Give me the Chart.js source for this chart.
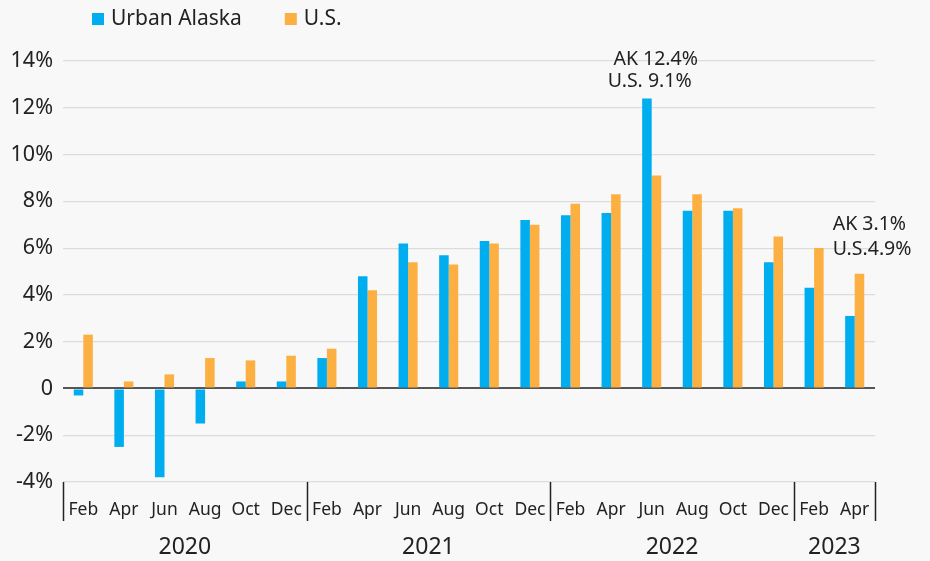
<!DOCTYPE html>
<html>
<head>
<meta charset="utf-8">
<script src="https://cdn.jsdelivr.net/npm/chart.js@4"></script>
<style>
  html, body { margin: 0; padding: 0; background: #f8f8f9; }
  #wrap { width: 930px; height: 561px; position: relative; }
</style>
</head>
<body>
<div id="wrap"><canvas id="cpiChart"></canvas></div>
<script>
// months shown on the axis, grouped by year
const months = ["Feb","Apr","Jun","Aug","Oct","Dec","Feb","Apr","Jun","Aug","Oct","Dec","Feb","Apr","Jun","Aug","Oct","Dec","Feb","Apr"];
const years = ["2020", "2021", "2022", "2023"];
const yearSpans = [6, 6, 6, 2];

// inflation, % change from a year earlier
const urbanAlaska = [-0.3, -2.5, -3.8, -1.5, 0.3, 0.3, 1.3, 4.8, 6.2, 5.7, 6.3, 7.2, 7.4, 7.5, 12.4, 7.6, 7.6, 5.4, 4.3, 3.1];
const us = [2.3, 0.3, 0.6, 1.3, 1.2, 1.4, 1.7, 4.2, 5.4, 5.3, 6.2, 7.0, 7.9, 8.3, 9.1, 8.3, 7.7, 6.5, 6.0, 4.9];

const yTicks = [-4, -2, 0, 2, 4, 6, 8, 10, 12, 14];

// callouts: category index + text lines
const noteIndex = [14, 19];
const noteLines = [["AK 12.4%", "U.S. 9.1%"], ["AK 3.1%", "U.S.4.9%"]];

const FONT = "'Noto Sans', 'Open Sans', sans-serif";
const BLUE = "#00aeef";
const ORANGE = "#fdb042";

// legend drawn top-left, like the original
const topLegend = {
    id: "topLegend",
    afterDraw(chart) {
        const ctx = chart.ctx;
        ctx.save();
        ctx.font = "21px " + FONT;
        ctx.textBaseline = "middle";
        let x = 92;
        const y = 19;
        chart.data.datasets.forEach(ds => {
            ctx.fillStyle = ds.backgroundColor;
            ctx.fillRect(x, y - 6, 12, 12);
            ctx.fillStyle = "#222";
            ctx.fillText(ds.label, x + 19, y);
            x += 19 + ctx.measureText(ds.label).width + 43;
        });
        ctx.restore();
    }
};

// year row + separators under the month labels
const yearAxis = {
    id: "yearAxis",
    afterDraw(chart) {
        const ctx = chart.ctx;
        const xs = chart.scales.x;
        const half = (xs.getPixelForValue(1) - xs.getPixelForValue(0)) / 2;
        const edge = i => i < months.length ? xs.getPixelForValue(i) - half : xs.getPixelForValue(months.length - 1) + half;
        const top = chart.chartArea.bottom;
        ctx.save();
        ctx.strokeStyle = "#222";
        ctx.lineWidth = 1.5;
        let start = 0;
        const bounds = [0];
        yearSpans.forEach(n => { start += n; bounds.push(start); });
        bounds.forEach(b => {
            const x = Math.round(edge(b)) + 0.5;
            ctx.beginPath();
            ctx.moveTo(x, top);
            ctx.lineTo(x, top + 39);
            ctx.stroke();
        });
        ctx.font = "23px " + FONT;
        ctx.fillStyle = "#222";
        ctx.textAlign = "center";
        ctx.textBaseline = "middle";
        years.forEach((yr, i) => {
            const cx = (edge(bounds[i]) + edge(bounds[i + 1])) / 2;
            ctx.fillText(yr, cx, top + 65);
        });
        ctx.restore();
    }
};

// callout text above the highlighted months
const callouts = {
    id: "callouts",
    afterDraw(chart) {
        const ctx = chart.ctx;
        const xs = chart.scales.x, ys = chart.scales.y;
        ctx.save();
        ctx.font = "19.5px " + FONT;
        ctx.fillStyle = "#222";
        ctx.textBaseline = "middle";
        noteIndex.forEach((idx, n) => {
            const cx = xs.getPixelForValue(idx);
            const lines = noteLines[n];
            if (n === 0) {
                const yTop = ys.getPixelForValue(urbanAlaska[idx]);
                ctx.textAlign = "center";
                ctx.fillText(lines[0], cx + 4, yTop - 39);
                ctx.fillText(lines[1], cx - 2, yTop - 17);
            } else {
                const yTop = ys.getPixelForValue(us[idx]);
                ctx.textAlign = "left";
                ctx.fillText(lines[0], cx - 22, yTop - 49);
                ctx.fillText(lines[1], cx - 22, yTop - 24);
            }
        });
        ctx.restore();
    }
};

new Chart(document.getElementById("cpiChart").getContext("2d"), {
    type: "bar",
    data: {
        labels: months,
        datasets: [
            { label: "Urban Alaska", data: urbanAlaska, backgroundColor: BLUE },
            { label: "U.S.", data: us, backgroundColor: ORANGE }
        ]
    },
    options: {
        responsive: true,
        maintainAspectRatio: false,
        animation: false,
        events: [],
        layout: { padding: { top: 61, right: 55, bottom: 0, left: 0 } },
        datasets: { bar: { barPercentage: 1, categoryPercentage: 0.47 } },
        plugins: {
            legend: { display: false },
            tooltip: { enabled: false }
        },
        scales: {
            x: {
                grid: { display: false },
                border: { display: false },
                ticks: {
                    autoSkip: false,
                    maxRotation: 0,
                    padding: 10,
                    color: "#222",
                    font: { family: FONT, size: 17.5 }
                },
                afterFit: s => { s.height = 79; }
            },
            y: {
                min: -4,
                max: 14,
                afterBuildTicks: s => { s.ticks = yTicks.map(v => ({ value: v })); },
                grid: {
                    drawTicks: false,
                    color: c => c.tick && c.tick.value === 0 ? "#555" : "#dcdcdc",
                    lineWidth: c => c.tick && c.tick.value === 0 ? 2 : 1.2
                },
                border: { display: false },
                ticks: {
                    padding: 10,
                    color: "#222",
                    font: { family: FONT, size: 21.5 },
                    callback: v => v === 0 ? "0" : v + "%"
                },
                afterFit: s => { s.width = 63; }
            }
        }
    },
    plugins: [topLegend, yearAxis, callouts]
});
</script>
</body>
</html>
